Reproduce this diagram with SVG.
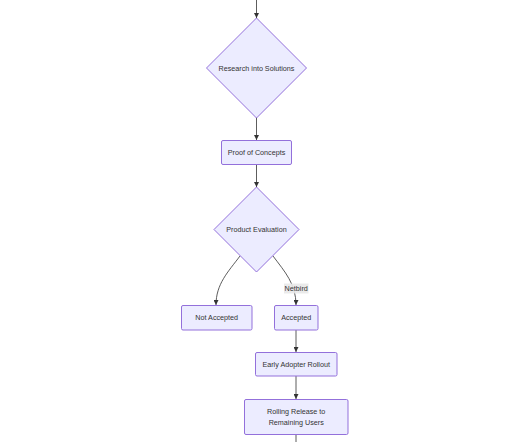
<svg xmlns="http://www.w3.org/2000/svg" width="530" height="442" viewBox="0 0 530 442">
<style>
.n{fill:#ECECFF;stroke:#9370DB;stroke-width:1}
.t{font-family:"Liberation Sans",Arial,sans-serif;font-size:7.2px;fill:#333;text-anchor:middle;dominant-baseline:central}
.e{fill:none;stroke:#333;stroke-width:0.8}
</style>
<defs>
<marker id="a" viewBox="0 0 10 10" refX="10" refY="5" markerWidth="5" markerHeight="5" orient="auto" markerUnits="userSpaceOnUse">
<path d="M0,0L10,5L0,10z" fill="#333"/>
</marker>
</defs>
<rect width="530" height="442" fill="#fff"/>
<g id="edges">
<path class="e" d="M256.5,0V18" marker-end="url(#a)"/>
<path class="e" d="M256.5,117V140" marker-end="url(#a)"/>
<path class="e" d="M256.5,164V187" marker-end="url(#a)"/>
<path class="e" d="M240,256C228,272 216,284 216,305" marker-end="url(#a)"/>
<path class="e" d="M273,256C285,272 296,284 296,305" marker-end="url(#a)"/>
<path class="e" d="M296,330V352" marker-end="url(#a)"/>
<path class="e" d="M296,376V399" marker-end="url(#a)"/>
<path class="e" d="M296,434V442"/>
</g>
<g id="label-netbird">
<rect x="284" y="283.5" width="24.5" height="10" fill="#e8e8e8" opacity="0.9"/>
<text class="t" x="296.2" y="288.5">Netbird</text>
</g>
<g id="research">
<polygon class="n" points="256.5,18 306.5,68 256.5,118 206.5,68"/>
<text class="t" x="256.5" y="68">Research into Solutions</text>
</g>
<g id="proof">
<rect class="n" x="221.5" y="140.5" width="70" height="24" rx="1.5"/>
<text class="t" x="256.5" y="152.5">Proof of Concepts</text>
</g>
<g id="evaluation">
<polygon class="n" points="256.5,187 299,229.5 256.5,272 214,229.5"/>
<text class="t" x="256.5" y="229.5">Product Evaluation</text>
</g>
<g id="not-accepted">
<rect class="n" x="181.5" y="305.5" width="70.5" height="24.5" rx="1.5"/>
<text class="t" x="216.7" y="317.7">Not Accepted</text>
</g>
<g id="accepted">
<rect class="n" x="274.5" y="305.5" width="43.5" height="24.5" rx="1.5"/>
<text class="t" x="296.2" y="317.7">Accepted</text>
</g>
<g id="early">
<rect class="n" x="255.5" y="352.5" width="81.5" height="23.5" rx="1.5"/>
<text class="t" x="296.2" y="364.2">Early Adopter Rollout</text>
</g>
<g id="rolling">
<rect class="n" x="244.5" y="399.5" width="103.5" height="35" rx="1.5"/>
<text class="t" x="296.2" y="411">Rolling Release to</text>
<text class="t" x="296.2" y="422">Remaining Users</text>
</g>
</svg>
